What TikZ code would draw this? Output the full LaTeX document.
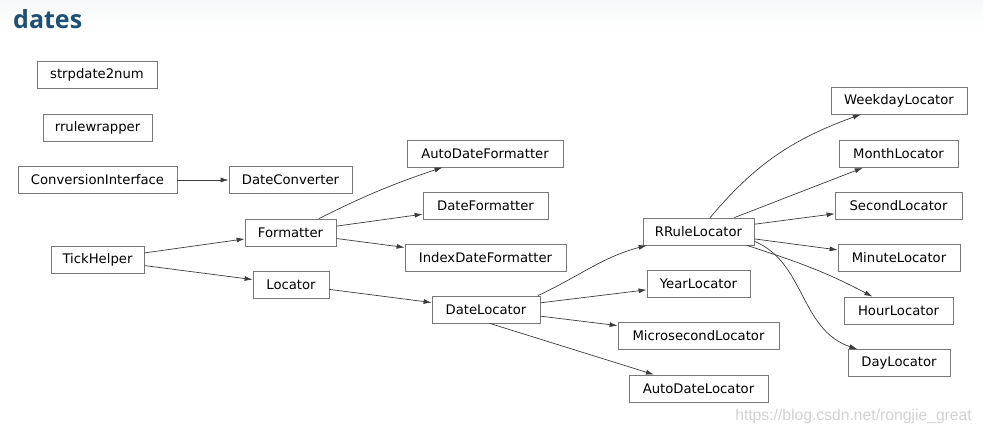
\documentclass[tikz,border=0pt]{standalone}
\usepackage{fontspec}
\setmainfont{DejaVu Sans}
\newfontfamily\titlefont{Open Sans}
\newfontfamily\wmfont{Liberation Sans}
\usetikzlibrary{arrows.meta}
\definecolor{titleblue}{RGB}{28,80,118}
\definecolor{boxgray}{RGB}{120,120,120}
\definecolor{edgegray}{RGB}{60,60,60}
\definecolor{wmgray}{RGB}{210,210,210}
\definecolor{topband}{RGB}{246,249,249}
\tikzset{
  cls/.style={draw=boxgray, line width=0.8pt, fill=white, minimum height=27pt, inner sep=0pt, font=\fontsize{13.2}{15}\selectfont, text=black},
  edge/.style={draw=edgegray, line width=0.7pt, -{Latex[length=8pt,width=5pt]}},
}
\begin{document}
\begin{tikzpicture}[x=1pt,y=1pt]
\useasboundingbox (0,0) rectangle (983,434);
\fill[white] (0,0) rectangle (983,434);
\shade[top color=topband, bottom color=white] (0,406) rectangle (983,434);
\node[anchor=base west, text=titleblue, font=\titlefont\bfseries\fontsize{25}{28}\selectfont, inner sep=0pt] (title) at (13,405) {dates};

\node[cls, minimum width=120pt] (strp) at (97,359) {strpdate2num};
\node[cls, minimum width=109pt] (rrulew) at (97.5,306.5) {rrulewrapper};
\node[cls, minimum width=159pt] (conv) at (97.5,254) {ConversionInterface};
\node[cls, minimum width=123pt] (dconv) at (290.5,254) {DateConverter};
\node[cls, minimum width=91pt] (fmt) at (290.5,201.5) {Formatter};
\node[cls, minimum width=93pt] (tick) at (97.5,174.5) {TickHelper};
\node[cls, minimum width=76pt] (loc) at (291,149.5) {Locator};
\node[cls, minimum width=156pt] (autofmt) at (485,280.5) {AutoDateFormatter};
\node[cls, minimum width=125pt] (datefmt) at (485.5,228.5) {DateFormatter};
\node[cls, minimum width=161pt] (idxfmt) at (485.5,176) {IndexDateFormatter};
\node[cls, minimum width=108pt] (dateloc) at (486,124.5) {DateLocator};
\node[cls, minimum width=111pt] (rrule) at (698.5,202.5) {RRuleLocator};
\node[cls, minimum width=103pt] (year) at (698.5,150.5) {YearLocator};
\node[cls, minimum width=161pt] (micro) at (698.5,98.5) {MicrosecondLocator};
\node[cls, minimum width=139pt] (autoloc) at (698.5,45.5) {AutoDateLocator};
\node[cls, minimum width=136pt] (week) at (899,333.5) {WeekdayLocator};
\node[cls, minimum width=119pt] (month) at (898.5,280) {MonthLocator};
\node[cls, minimum width=127pt] (second) at (898.5,228.5) {SecondLocator};
\node[cls, minimum width=122pt] (minute) at (899,176) {MinuteLocator};
\node[cls, minimum width=109pt] (hour) at (898.5,123.5) {HourLocator};
\node[cls, minimum width=102pt] (day) at (899,71) {DayLocator};

\draw[edge] (conv) -- (dconv);
\draw[edge] (tick) -- (fmt);
\draw[edge] (tick) -- (loc);
\draw[edge] (fmt) to[bend left=4] (autofmt);
\draw[edge] (fmt) -- (datefmt);
\draw[edge] (fmt) -- (idxfmt);
\draw[edge] (loc) -- (dateloc);
\draw[edge] (dateloc.15) to[out=25,in=195] (rrule);
\draw[edge] (dateloc) -- (year);
\draw[edge] (dateloc) -- (micro);
\draw[edge] (dateloc.-75) -- (autoloc);
\draw[edge] (rrule) to[out=50,in=200] (week);
\draw[edge] (rrule) -- (month);
\draw[edge] (rrule) -- (second);
\draw[edge] (rrule) -- (minute);
\draw[edge] (rrule.-16) to[out=-18,in=152] (hour);
\draw[edge] (rrule.-10) .. controls (805,172) and (800,104) .. (day);

\node[anchor=base east, text=wmgray, font=\wmfont\fontsize{15.7}{17}\selectfont, inner sep=0pt] (wm) at (972,13) {https://blog.csdn.net/rongjie\_great};
\end{tikzpicture}
\end{document}
